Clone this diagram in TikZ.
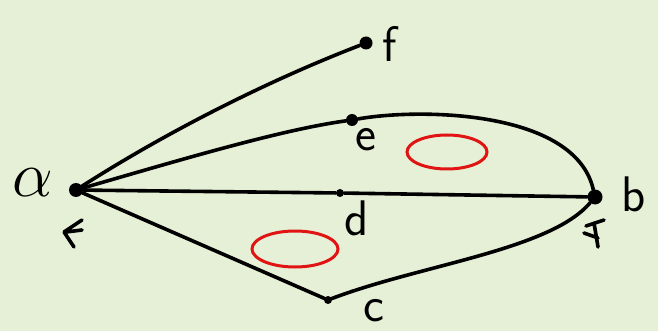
\documentclass[tikz,border=0pt]{standalone}
\usepackage{fontspec}
\usetikzlibrary{shapes.geometric}
\definecolor{bg}{RGB}{230,240,214}
\definecolor{facered}{RGB}{225,20,20}
\begin{document}
\begin{tikzpicture}[x=1pt,y=-1pt,
  edge/.style={line width=3.6pt,line cap=round,black},
  dot/.style={circle,fill=black,inner sep=0pt,minimum size=#1},
  lbl/.style={font=\fontsize{50}{50}\selectfont\sffamily,inner sep=0pt},
  face/.style={draw=facered,line width=3pt},
  tickmark/.style={line width=3.6pt,line cap=round,line join=round}]
\fill[fill=bg] (0,0) rectangle (658,331);
\useasboundingbox (0,0) rectangle (658,331);
% vertices
\node[dot=14pt] (a) at (76,190) {};
\node[dot=13pt] (f) at (366,43) {};
\node[dot=12pt] (e) at (352,120) {};
\node[dot=8pt] (d) at (340,193) {};
\node[dot=15pt] (b) at (595,197) {};
\node[dot=8pt] (c) at (328,300) {};
% labels
\node[lbl] (la) at (33,183) {\scalebox{2.6}{$\alpha$}};
\node[lbl] (lf) at (390,44) {f};
\node[lbl] (le) at (366,140) {e};
\node[lbl] (ld) at (357,218) {d};
\node[lbl] (lb) at (634,194) {b};
\node[lbl] (lc) at (374,311) {c};
% edges
\draw[edge] (a) .. controls (170,130) and (270,80) .. (f);
\draw[edge] (a) .. controls (180,160) and (280,130) .. (e);
\draw[edge] (a) -- (d) -- (b);
\draw[edge] (a) -- (c);
\draw[edge] (c) .. controls (420,265) and (550,250) .. (b);
\draw[edge] (e) .. controls (420,108) and (575,110) .. (b);
% faces
\node[face,ellipse,minimum width=80pt,minimum height=34pt] (o1) at (447,152) {};
\node[face,ellipse,minimum width=86pt,minimum height=36pt] (o2) at (295,249) {};
% handwritten ticks
\draw[tickmark] (82,220) -- (64,232) -- (74,247) (66,232) -- (82,230);
\draw[tickmark] (586,226) -- (604,220) (594,223) -- (598,247) (584,233) -- (598,238);
\end{tikzpicture}
\end{document}
